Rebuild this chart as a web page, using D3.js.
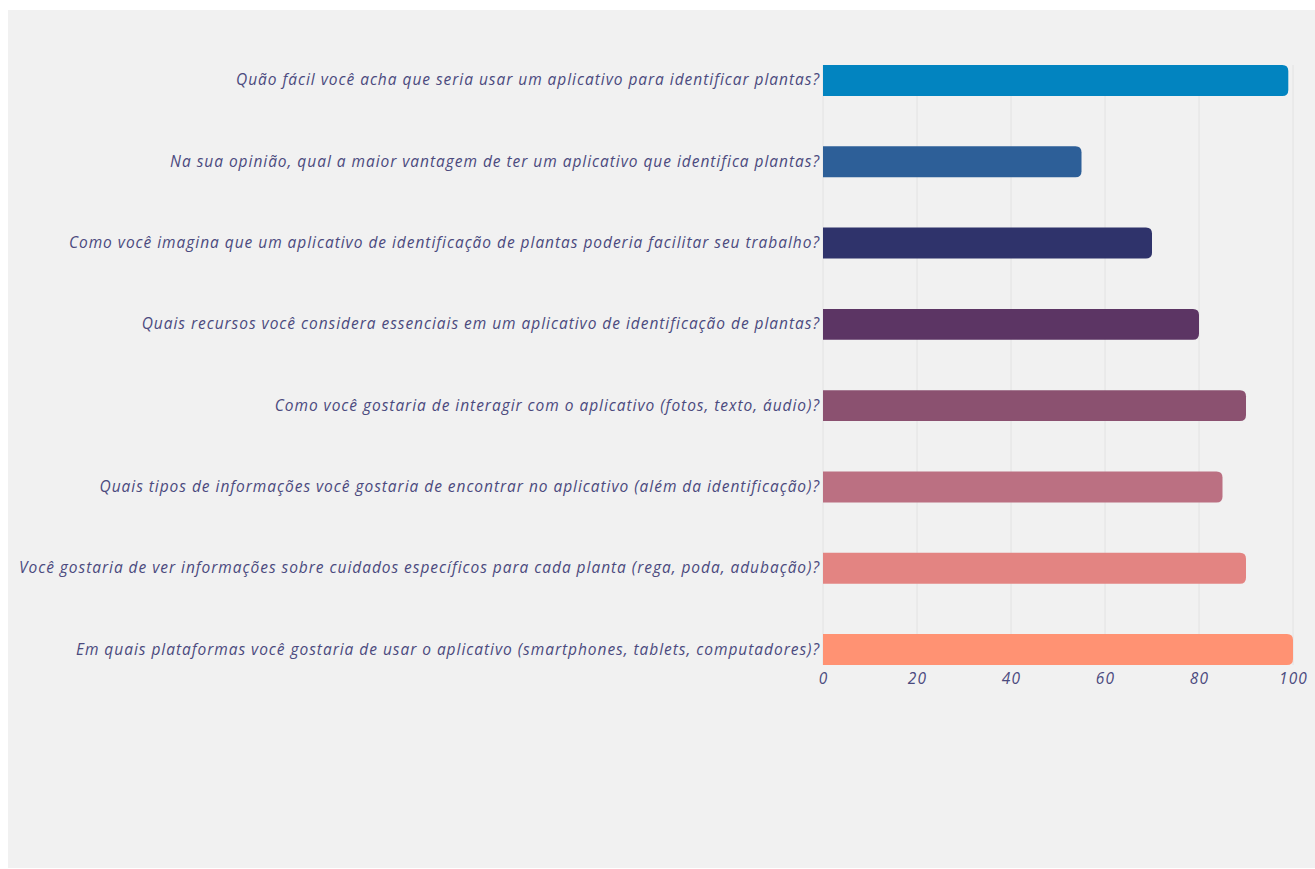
<!DOCTYPE html>
<html>
<head>
<meta charset="utf-8">
<script src="https://cdn.jsdelivr.net/npm/d3@7"></script>
<style>
  html, body { margin: 0; padding: 0; background: #ffffff; }
  svg { display: block; }
  text { font-family: "Open Sans", Lato, sans-serif; font-style: italic; }
</style>
</head>
<body>
<svg id="chart" width="1315" height="869"></svg>
<script>
const categories = [
  "Quão fácil você acha que seria usar um aplicativo para identificar plantas?",
  "Na sua opinião, qual a maior vantagem de ter um aplicativo que identifica plantas?",
  "Como você imagina que um aplicativo de identificação de plantas poderia facilitar seu trabalho?",
  "Quais recursos você considera essenciais em um aplicativo de identificação de plantas?",
  "Como você gostaria de interagir com o aplicativo (fotos, texto, áudio)?",
  "Quais tipos de informações você gostaria de encontrar no aplicativo (além da identificação)?",
  "Você gostaria de ver informações sobre cuidados específicos para cada planta (rega, poda, adubação)?",
  "Em quais plataformas você gostaria de usar o aplicativo (smartphones, tablets, computadores)?"
];
const values = [99, 55, 70, 80, 90, 85, 90, 100];
const colors = ["#0284c0", "#2d5f98", "#2f336b", "#5c3564", "#8b5170", "#bb7082", "#e38482", "#ff9273"];
const xTicks = [0, 20, 40, 60, 80, 100];

const svg = d3.select("#chart");
const W = 1315, H = 869;
const margin = {left: 823, right: 22, top: 65, bottom: 204};
const textColor = "#4b4a7e";

svg.append("rect").attr("x", 8).attr("y", 10).attr("width", W - 8).attr("height", 858).attr("fill", "#f1f1f1");

const x = d3.scaleLinear().domain([0, 100]).range([margin.left, 1293]);
const y = d3.scaleBand().domain(categories).range([margin.top, H - margin.bottom]).paddingInner(0.62).paddingOuter(0);

// gridlines
svg.append("g").selectAll("line").data(xTicks).join("line")
  .attr("x1", d => x(d)).attr("x2", d => x(d))
  .attr("y1", margin.top).attr("y2", H - margin.bottom)
  .attr("stroke", "#e2e2e2").attr("stroke-width", 1);

// bars: square left, rounded right
const r = 6;
svg.append("g").selectAll("path").data(categories).join("path")
  .attr("d", (c, i) => {
    const x0 = x(0), x1 = x(values[i]), y0 = y(c), h = y.bandwidth();
    return `M${x0},${y0} H${x1 - r} Q${x1},${y0} ${x1},${y0 + r} V${y0 + h - r} Q${x1},${y0 + h} ${x1 - r},${y0 + h} H${x0} Z`;
  })
  .attr("fill", (c, i) => colors[i]);

// y labels
const yAxis = d3.axisLeft(y).tickSize(0).tickPadding(3);
const gy = svg.append("g").attr("transform", `translate(${margin.left},0)`).call(yAxis);
gy.select(".domain").remove();
const ylabels = gy.selectAll("text").attr("fill", textColor).style("font-size", "15.5px");
// fit letter spacing so the longest label spans the same width as the reference
let maxLen = 0, maxChars = 1;
ylabels.each(function(d) { const l = this.getComputedTextLength(); if (l > maxLen) { maxLen = l; maxChars = d.length; } });
const ls = Math.max(0, (801 - maxLen) / maxChars);
ylabels.style("letter-spacing", ls + "px");

// x axis
const xAxis = d3.axisBottom(x).tickValues(xTicks).tickSize(0).tickPadding(8);
const gx = svg.append("g").attr("transform", `translate(0,${H - margin.bottom})`).call(xAxis);
gx.select(".domain").remove();
gx.selectAll("text").attr("fill", textColor).style("font-size", "15.5px").style("letter-spacing", "1.2px");
</script>
</body>
</html>
